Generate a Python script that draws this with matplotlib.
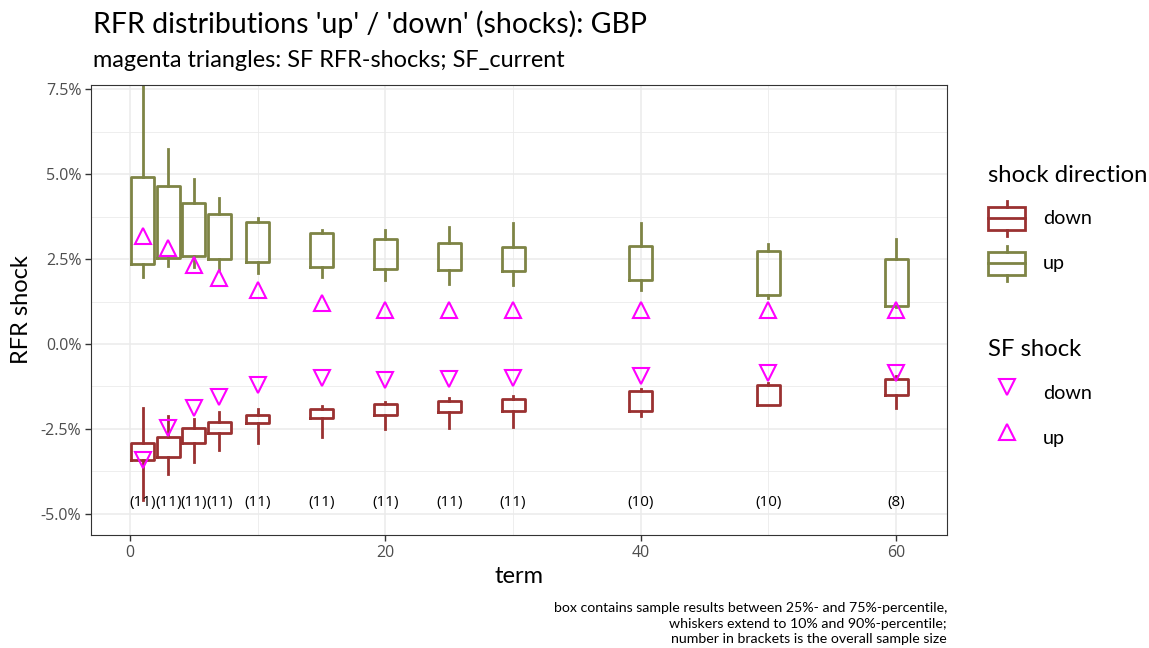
import matplotlib
matplotlib.use('Agg')
import matplotlib.pyplot as plt
from matplotlib.legend_handler import HandlerBase
from matplotlib.lines import Line2D
from matplotlib.patches import Rectangle
from matplotlib.ticker import FuncFormatter, MultipleLocator

plt.rcParams['font.family'] = ['Lato', 'DejaVu Sans']

terms = [1, 3, 5, 7, 10, 15, 20, 25, 30, 40, 50, 60]
counts = [11, 11, 11, 11, 11, 11, 11, 11, 11, 10, 10, 8]

# shock 'up' percentiles (in %)
up_p10 = [1.98, 2.29, 2.27, 2.18, 2.10, 1.96, 1.88, 1.76, 1.74, 1.59, 1.34, 1.10]
up_p25 = [2.35, 2.52, 2.60, 2.49, 2.42, 2.27, 2.21, 2.17, 2.14, 1.88, 1.43, 1.13]
up_p75 = [4.90, 4.65, 4.14, 3.82, 3.60, 3.27, 3.09, 2.98, 2.85, 2.87, 2.75, 2.49]
up_p90 = [8.50, 5.74, 4.84, 4.28, 3.71, 3.35, 3.35, 3.45, 3.57, 3.55, 2.94, 3.08]

# shock 'down' percentiles (in %)
down_p10 = [-4.59, -3.82, -3.48, -3.12, -2.92, -2.73, -2.51, -2.48, -2.45, -2.12, -1.80, -1.89]
down_p25 = [-3.41, -3.31, -2.90, -2.61, -2.31, -2.19, -2.09, -2.01, -1.97, -1.96, -1.78, -1.49]
down_p75 = [-2.92, -2.73, -2.46, -2.28, -2.09, -1.90, -1.77, -1.68, -1.63, -1.38, -1.21, -1.03]
down_p90 = [-1.87, -2.12, -2.20, -1.99, -1.92, -1.82, -1.72, -1.60, -1.53, -1.33, -1.15, -0.95]

# SF standard formula shocks (in %)
sf_up = [3.18, 2.81, 2.32, 1.93, 1.59, 1.22, 1.00, 1.00, 1.00, 1.00, 1.00, 1.00]
sf_down = [-3.41, -2.48, -1.89, -1.55, -1.21, -1.01, -1.06, -1.04, -0.99, -0.94, -0.86, -0.84]

col_up = '#7E8445'
col_down = '#9A3131'
col_sf = '#FF00FF'


def stats(lo, q1, q3, hi):
    return [dict(whislo=a / 100, q1=b / 100, med=b / 100, q3=c / 100, whishi=d / 100, fliers=[])
            for a, b, c, d in zip(lo, q1, q3, hi)]


fig = plt.figure(figsize=(11.49, 6.48), dpi=100)
ax = fig.add_axes([0.0792, 0.1744, 0.745, 0.6944])

ax.set_xlim(-3.05, 63.98)
ax.set_ylim(-0.05618, 0.07618)

ax.xaxis.set_major_locator(MultipleLocator(20))
ax.xaxis.set_minor_locator(MultipleLocator(10))
ax.yaxis.set_major_locator(MultipleLocator(0.025))
ax.yaxis.set_minor_locator(MultipleLocator(0.0125))
ax.yaxis.set_major_formatter(FuncFormatter(lambda v, _: f'{v * 100:.1f}%'))
ax.grid(which='major', color='#EBEBEB', lw=1.1)
ax.grid(which='minor', color='#EBEBEB', lw=0.6)
ax.set_axisbelow(True)
ax.tick_params(which='major', length=4, width=1, color='#333333', labelcolor='#4D4D4D',
               labelsize=11.5, labelfontfamily='Open Sans', pad=3)
ax.tick_params(which='minor', length=0)
for s in ax.spines.values():
    s.set_color('#333333')
    s.set_linewidth(0.8)

for lo, q1, q3, hi, col in [(up_p10, up_p25, up_p75, up_p90, col_up),
                            (down_p10, down_p25, down_p75, down_p90, col_down)]:
    lp = dict(color=col, lw=2)
    ax.bxp(stats(lo, q1, q3, hi), positions=terms, widths=1.8, showcaps=False,
           boxprops=lp, whiskerprops=lp, medianprops=dict(visible=False),
           manage_ticks=False)

ax.plot(terms, [v / 100 for v in sf_up], ls='none', marker='^', ms=11, mfc='none',
        mec=col_sf, mew=1.5, zorder=5)
ax.plot(terms, [v / 100 for v in sf_down], ls='none', marker='v', ms=11, mfc='none',
        mec=col_sf, mew=1.5, zorder=5)

for t, n in zip(terms, counts):
    ax.text(t, -0.0465, f'({n})', ha='center', va='center', fontsize=11,
            family='Open Sans', color='black')

ax.set_xlabel('term', fontsize=17, labelpad=4)
ax.set_ylabel('RFR shock', fontsize=17, labelpad=6)

fig.text(0.081, 0.963, "RFR distributions 'up' / 'down' (shocks): GBP", fontsize=20.5, va='center')
fig.text(0.081, 0.907, 'magenta triangles: SF RFR-shocks; SF_current', fontsize=16.9, va='center')
fig.text(0.8242, 0.071, 'box contains sample results between 25%- and 75%-percentile,\n'
         'whiskers extend to 10% and 90%-percentile;\n'
         'number in brackets is the overall sample size',
         ha='right', va='top', fontsize=10.2, linespacing=1.36)


class BoxKey(HandlerBase):
    def create_artists(self, legend, orig_handle, xdescent, ydescent, width, height, fontsize, trans):
        c = orig_handle.get_color()
        x0, y0 = -xdescent, -ydescent
        xm = x0 + width / 2
        kw = dict(color=c, lw=2, transform=trans)
        rect = Rectangle((x0, y0 + 0.17 * height), width, 0.66 * height, fill=False,
                         ec=c, lw=2, transform=trans)
        mid = Line2D([x0, x0 + width], [y0 + 0.5 * height] * 2, **kw)
        wlo = Line2D([xm, xm], [y0, y0 + 0.17 * height], **kw)
        whi = Line2D([xm, xm], [y0 + 0.83 * height, y0 + height], **kw)
        return [rect, mid, wlo, whi]


leg_kw = dict(loc='upper left', frameon=False, fontsize=14.2, title_fontsize=17.2,
              alignment='left', handlelength=1.88, handleheight=2.35, labelspacing=0.51,
              handletextpad=0.9, borderaxespad=0)

box_handles = [Line2D([], [], color=col_down), Line2D([], [], color=col_up)]
leg1 = fig.legend(box_handles, ['down', 'up'], handler_map={Line2D: BoxKey()},
                  title='shock direction', bbox_to_anchor=(0.8533, 0.758), **leg_kw)

tri_handles = [Line2D([], [], ls='none', marker='v', ms=11, mfc='none', mec=col_sf, mew=1.5),
               Line2D([], [], ls='none', marker='^', ms=11, mfc='none', mec=col_sf, mew=1.5)]
leg2 = fig.legend(tri_handles, ['down', 'up'], title='SF shock',
                  bbox_to_anchor=(0.8533, 0.489), **leg_kw)

# a bit more room between legend titles and their keys
for leg in (leg1, leg2):
    leg._legend_box.sep += 3.6

plt.savefig('out.png', dpi=100)
